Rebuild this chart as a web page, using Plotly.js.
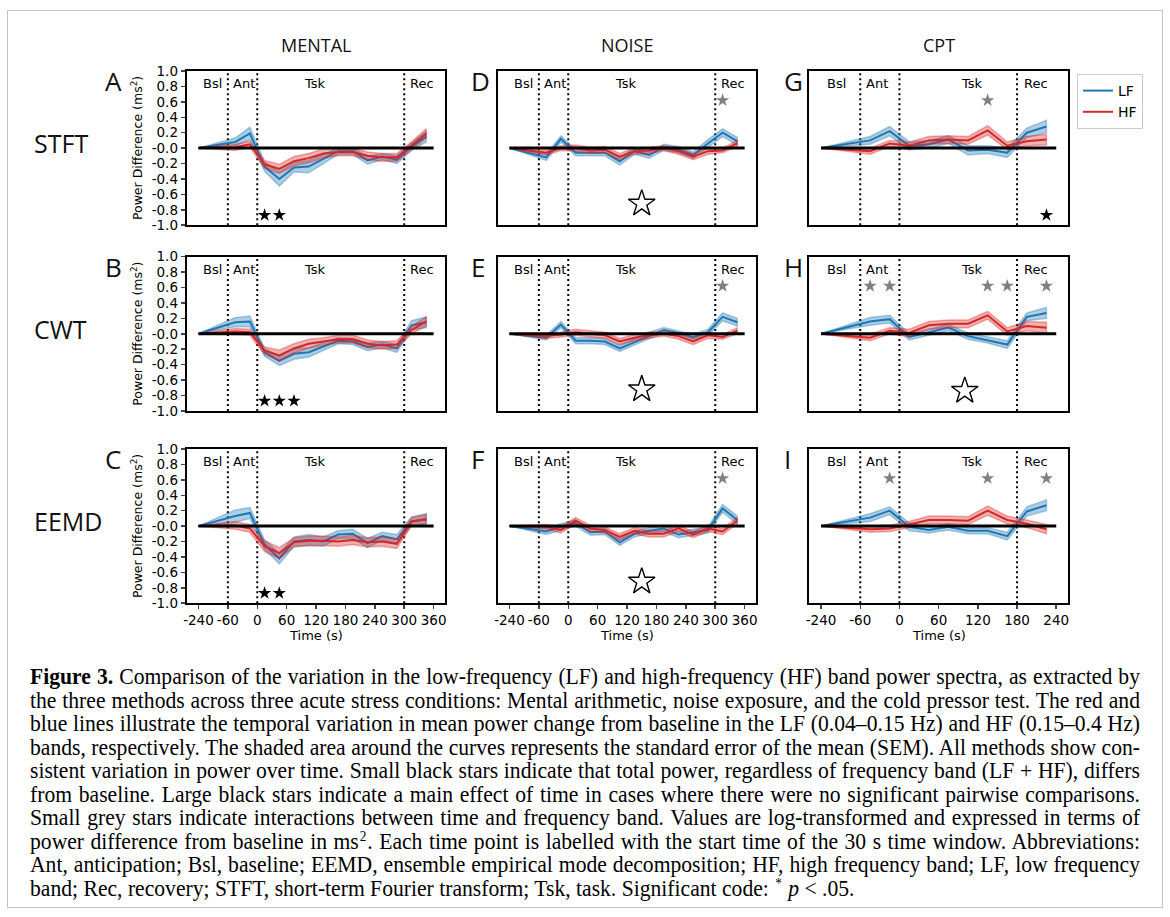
<!DOCTYPE html>
<html><head><meta charset="utf-8">
<script src="https://cdn.plot.ly/plotly-3.0.1.min.js"></script>
<style>
html,body{margin:0;padding:0;background:#fff;}
#wrap{position:relative;width:1170px;height:917px;overflow:hidden;background:#fff;}
#chart{position:absolute;left:0;top:0;width:1170px;height:917px;}
#frame{position:absolute;left:7px;top:10px;width:1154px;height:896px;border:1px solid #c4c4c4;pointer-events:none;}
#caption{position:absolute;left:30px;top:665px;width:1110px;font-family:"Liberation Serif","DejaVu Serif",serif;color:#000;transform-origin:0 0;}
#caption div{white-space:nowrap;line-height:23.5px;height:23.5px;text-align:justify;text-align-last:justify;}
#caption div.last{text-align-last:left;}
#caption sup{font-size:62%;vertical-align:0.55em;line-height:0;margin:0 1px;}
</style></head>
<body>
<div id="wrap">
<div id="chart"></div>
<div id="frame"></div>
<div id="caption"></div>
</div>
<script>
// ---------- DATA ----------
// x positions (s): baseline window drawn at the compressed -240 slot, others at window centres
const mentalX = [-120, -45, -15, 15, 45, 75, 105, 135, 165, 195, 225, 255, 285, 315, 345];
const cptX = [-120, -45, -15, 15, 45, 75, 105, 135, 165, 195, 225];

const mentalBounds = [-60, 0, 300];
const cptBounds = [-60, 0, 180];
const mentalZeroSpan = [-120, 360];
const cptZeroSpan = [-120, 240];

const mentalTickVals = [-120, -60, 0, 60, 120, 180, 240, 300, 360];
const mentalTickText = ['-240', '-60', '0', '60', '120', '180', '240', '300', '360'];
const cptTickVals = [-120, -60, 0, 60, 120, 180, 240];
const cptTickText = ['-240', '-60', '0', '60', '120', '180', '240'];
const yTickVals = [-1, -0.8, -0.6, -0.4, -0.2, 0, 0.2, 0.4, 0.6, 0.8, 1];
const yTickText = ['-1.0', '-0.8', '-0.6', '-0.4', '-0.2', '-0.0', '0.2', '0.4', '0.6', '0.8', '1.0'];

const columnTitles = ['MENTAL', 'NOISE', 'CPT'];
const rowTitles = ['STFT', 'CWT', 'EEMD'];
const panelLetters = ['A', 'B', 'C', 'D', 'E', 'F', 'G', 'H', 'I'];
const regionNames = ['Bsl', 'Ant', 'Tsk', 'Rec'];

// STFT - Mental (A)
const aLF = [0, 0.08, 0.19, -0.24, -0.40, -0.25, -0.24, -0.14, -0.04, -0.04, -0.16, -0.11, -0.15, 0.02, 0.15];
const aLFsem = [0, 0.05, 0.08, 0.06, 0.09, 0.06, 0.08, 0.06, 0.04, 0.04, 0.05, 0.04, 0.05, 0.05, 0.07];
const aHF = [0, 0.01, 0.05, -0.21, -0.27, -0.17, -0.13, -0.07, -0.05, -0.05, -0.10, -0.12, -0.12, 0.03, 0.19];
const aHFsem = [0, 0.04, 0.04, 0.05, 0.06, 0.06, 0.06, 0.06, 0.05, 0.05, 0.05, 0.05, 0.05, 0.05, 0.06];
// CWT - Mental (B)
const bLF = [0, 0.15, 0.16, -0.24, -0.35, -0.26, -0.24, -0.17, -0.09, -0.10, -0.17, -0.14, -0.19, 0.11, 0.15];
const bLFsem = [0, 0.06, 0.07, 0.05, 0.06, 0.07, 0.06, 0.05, 0.04, 0.04, 0.05, 0.04, 0.05, 0.06, 0.07];
const bHF = [0, 0.03, 0.02, -0.22, -0.28, -0.19, -0.13, -0.10, -0.07, -0.07, -0.13, -0.15, -0.14, 0.05, 0.16];
const bHFsem = [0, 0.04, 0.04, 0.05, 0.07, 0.06, 0.06, 0.05, 0.05, 0.05, 0.05, 0.05, 0.05, 0.05, 0.06];
// EEMD - Mental (C)
const cLF = [0, 0.13, 0.17, -0.24, -0.42, -0.20, -0.18, -0.20, -0.11, -0.10, -0.22, -0.13, -0.17, 0.06, 0.09];
const cLFsem = [0, 0.08, 0.07, 0.06, 0.07, 0.06, 0.07, 0.06, 0.05, 0.06, 0.06, 0.05, 0.06, 0.06, 0.07];
const cHF = [0, 0.01, -0.03, -0.26, -0.35, -0.21, -0.19, -0.19, -0.20, -0.18, -0.21, -0.20, -0.23, 0.06, 0.09];
const cHFsem = [0, 0.05, 0.05, 0.07, 0.07, 0.06, 0.06, 0.06, 0.06, 0.06, 0.06, 0.06, 0.06, 0.05, 0.06];
// STFT - Noise (D)
const dLF = [0, -0.12, 0.12, -0.06, -0.06, -0.06, -0.17, -0.04, -0.09, 0.01, -0.02, -0.09, 0.06, 0.20, 0.09];
const dLFsem = [0, 0.04, 0.04, 0.04, 0.04, 0.04, 0.05, 0.04, 0.04, 0.04, 0.04, 0.04, 0.05, 0.05, 0.05];
const dHF = [0, -0.06, 0.00, 0.00, -0.03, -0.02, -0.11, -0.04, -0.03, 0.00, -0.04, -0.11, -0.04, -0.03, 0.06];
const dHFsem = [0, 0.03, 0.03, 0.04, 0.04, 0.04, 0.04, 0.04, 0.04, 0.03, 0.04, 0.04, 0.04, 0.03, 0.04];
// CWT - Noise (E)
const eLF = [0, -0.05, 0.12, -0.09, -0.09, -0.10, -0.19, -0.11, -0.02, 0.05, 0.01, -0.04, 0.02, 0.22, 0.15];
const eLFsem = [0, 0.03, 0.04, 0.04, 0.04, 0.04, 0.04, 0.04, 0.04, 0.03, 0.03, 0.03, 0.04, 0.05, 0.05];
const eHF = [0, -0.03, -0.01, 0.02, 0.00, -0.02, -0.10, -0.05, -0.02, 0.00, -0.03, -0.10, -0.02, -0.04, 0.04];
const eHFsem = [0, 0.03, 0.03, 0.04, 0.04, 0.04, 0.04, 0.04, 0.04, 0.03, 0.04, 0.04, 0.04, 0.03, 0.04];
// EEMD - Noise (F)
const fLF = [0, -0.07, -0.01, 0.04, -0.08, -0.07, -0.21, -0.10, -0.06, -0.03, -0.11, -0.08, -0.05, 0.23, 0.08];
const fLFsem = [0, 0.04, 0.04, 0.04, 0.04, 0.04, 0.04, 0.04, 0.04, 0.04, 0.04, 0.04, 0.04, 0.05, 0.05];
const fHF = [0, -0.01, -0.05, 0.07, -0.03, -0.05, -0.14, -0.06, -0.10, -0.10, -0.03, -0.11, -0.03, -0.07, 0.07];
const fHFsem = [0, 0.03, 0.04, 0.04, 0.04, 0.04, 0.04, 0.04, 0.04, 0.04, 0.04, 0.04, 0.04, 0.04, 0.04];
// STFT - CPT (G)
const gLF = [0, 0.10, 0.22, 0.03, 0.05, 0.11, -0.03, -0.02, -0.06, 0.20, 0.28];
const gLFsem = [0, 0.05, 0.06, 0.05, 0.05, 0.05, 0.06, 0.05, 0.06, 0.06, 0.08];
const gHF = [0, -0.04, 0.06, 0.03, 0.10, 0.11, 0.10, 0.23, 0.03, 0.09, 0.11];
const gHFsem = [0, 0.04, 0.04, 0.05, 0.05, 0.05, 0.05, 0.06, 0.05, 0.06, 0.07];
// CWT - CPT (H)
const hLF = [0, 0.16, 0.19, -0.04, 0.02, 0.08, -0.03, -0.08, -0.14, 0.22, 0.27];
const hLFsem = [0, 0.05, 0.05, 0.04, 0.04, 0.04, 0.04, 0.04, 0.05, 0.05, 0.07];
const hHF = [0, -0.05, 0.04, 0.01, 0.11, 0.13, 0.13, 0.24, 0.03, 0.10, 0.08];
const hHFsem = [0, 0.04, 0.04, 0.05, 0.05, 0.05, 0.05, 0.05, 0.05, 0.06, 0.07];
// EEMD - CPT (I)
const iLF = [0, 0.11, 0.20, -0.01, -0.05, -0.01, -0.06, -0.06, -0.13, 0.19, 0.27];
const iLFsem = [0, 0.05, 0.05, 0.05, 0.04, 0.04, 0.04, 0.04, 0.05, 0.06, 0.07];
const iHF = [0, -0.04, -0.03, 0.02, 0.08, 0.08, 0.07, 0.20, 0.08, 0.03, -0.04];
const iHFsem = [0, 0.04, 0.04, 0.04, 0.05, 0.05, 0.05, 0.06, 0.05, 0.05, 0.06];

// significance markers (x position, y level)
const blackStarY = -0.87, greyStarY = 0.62, openStarY = -0.72;
const aBlackStars = [15, 45];
const bBlackStars = [15, 45, 75];
const cBlackStars = [15, 45];
const gBlackStars = [225];
const dGreyStars = [315];
const eGreyStars = [315];
const fGreyStars = [315];
const gGreyStars = [135];
const hGreyStars = [-45, -15, 135, 165, 225];
const iGreyStars = [-15, 135, 225];
const dOpenStars = [150];
const eOpenStars = [150];
const fOpenStars = [150];
const hOpenStars = [100];

// ---------- LAYOUT GEOMETRY (px) ----------
const W = 1170, H = 917;
const colLeft = [186.7, 497.7, 809.3], colW = 258.7;
const rowTop = [71, 256.7, 449], rowH = 154.2;
const mentalRange = [-144, 384], cptRange = [-138, 258];

const BLUE = '#1f77b4', RED = '#d62728';
const BLUE_A = 'rgba(31,119,180,0.36)', RED_A = 'rgba(214,39,40,0.36)';
const FONT = 'DejaVu Sans';
const TICK = 13.5;

const panels = [
  {lf: aLF, lfs: aLFsem, hf: aHF, hfs: aHFsem, blk: aBlackStars, gry: [], opn: []},
  {lf: bLF, lfs: bLFsem, hf: bHF, hfs: bHFsem, blk: bBlackStars, gry: [], opn: []},
  {lf: cLF, lfs: cLFsem, hf: cHF, hfs: cHFsem, blk: cBlackStars, gry: [], opn: []},
  {lf: dLF, lfs: dLFsem, hf: dHF, hfs: dHFsem, blk: [], gry: dGreyStars, opn: dOpenStars},
  {lf: eLF, lfs: eLFsem, hf: eHF, hfs: eHFsem, blk: [], gry: eGreyStars, opn: eOpenStars},
  {lf: fLF, lfs: fLFsem, hf: fHF, hfs: fHFsem, blk: [], gry: fGreyStars, opn: fOpenStars},
  {lf: gLF, lfs: gLFsem, hf: gHF, hfs: gHFsem, blk: gBlackStars, gry: gGreyStars, opn: []},
  {lf: hLF, lfs: hLFsem, hf: hHF, hfs: hHFsem, blk: [], gry: hGreyStars, opn: hOpenStars},
  {lf: iLF, lfs: iLFsem, hf: iHF, hfs: iHFsem, blk: [], gry: iGreyStars, opn: []}
];

const traces = [];
const layout = {
  width: W, height: H,
  margin: {l: 0, r: 0, t: 0, b: 0},
  paper_bgcolor: 'rgba(0,0,0,0)', plot_bgcolor: 'rgba(0,0,0,0)',
  font: {family: FONT, size: TICK, color: '#000'},
  showlegend: true,
  legend: {x: 1077 / W, y: 1 - 74 / H, xanchor: 'left', yanchor: 'top',
    bordercolor: '#cccccc', borderwidth: 1, bgcolor: '#fff',
    font: {family: FONT, size: 14, color: '#000'}, itemwidth: 30, tracegroupgap: 0},
  annotations: []
};

function band(x, m, s, col, xa, ya) {
  const up = m.map((v, k) => v + s[k]);
  const lo = m.map((v, k) => v - s[k]);
  return {x: x.concat(x.slice().reverse()), y: up.concat(lo.reverse()),
    xaxis: xa, yaxis: ya, type: 'scatter', mode: 'lines', fill: 'toself',
    fillcolor: col, line: {color: col, width: 1.5}, hoverinfo: 'skip', showlegend: false};
}

panels.forEach((p, i) => {
  const col = Math.floor(i / 3), row = i % 3;
  const n = i + 1, sfx = n === 1 ? '' : String(n);
  const xa = 'x' + sfx, ya = 'y' + sfx;
  const isCpt = col === 2;
  const xs = isCpt ? cptX : mentalX;
  const bounds = isCpt ? cptBounds : mentalBounds;
  const zspan = isCpt ? cptZeroSpan : mentalZeroSpan;

  // dotted phase boundaries
  const vx = [], vy = [];
  bounds.forEach(b => { vx.push(b, b, null); vy.push(-1, 1, null); });
  traces.push({x: vx, y: vy, xaxis: xa, yaxis: ya, type: 'scatter', mode: 'lines',
    line: {color: '#000', width: 2, dash: '2px,3px'}, hoverinfo: 'skip', showlegend: false});

  traces.push(band(xs, p.lf, p.lfs, BLUE_A, xa, ya));
  traces.push({x: xs, y: p.lf, xaxis: xa, yaxis: ya, type: 'scatter', mode: 'lines',
    line: {color: BLUE, width: 2}, name: 'LF', legendgroup: 'LF', showlegend: i === 0, hoverinfo: 'skip'});
  traces.push(band(xs, p.hf, p.hfs, RED_A, xa, ya));
  traces.push({x: xs, y: p.hf, xaxis: xa, yaxis: ya, type: 'scatter', mode: 'lines',
    line: {color: RED, width: 2}, name: 'HF', legendgroup: 'HF', showlegend: i === 0, hoverinfo: 'skip'});

  traces.push({x: zspan, y: [0, 0], xaxis: xa, yaxis: ya, type: 'scatter', mode: 'lines',
    line: {color: '#000', width: 3}, hoverinfo: 'skip', showlegend: false});

  if (p.blk.length) traces.push({x: p.blk, y: p.blk.map(() => blackStarY), xaxis: xa, yaxis: ya,
    type: 'scatter', mode: 'markers', marker: {symbol: 'star', size: 10, color: '#000'},
    hoverinfo: 'skip', showlegend: false});
  if (p.gry.length) traces.push({x: p.gry, y: p.gry.map(() => greyStarY), xaxis: xa, yaxis: ya,
    type: 'scatter', mode: 'markers', marker: {symbol: 'star', size: 10, color: '#808080'},
    hoverinfo: 'skip', showlegend: false});
  if (p.opn.length) traces.push({x: p.opn, y: p.opn.map(() => isCpt ? openStarY - 0.02 : openStarY), xaxis: xa, yaxis: ya,
    type: 'scatter', mode: 'markers', marker: {symbol: 'star-open', size: 20, color: '#000', line: {width: 1.4, color: '#000'}},
    hoverinfo: 'skip', showlegend: false});

  const x0 = colLeft[col], y0 = rowTop[row];
  const bottomRow = row === 2;
  layout['xaxis' + sfx] = {
    domain: [x0 / W, (x0 + colW) / W], anchor: ya,
    range: isCpt ? cptRange : mentalRange,
    tickvals: isCpt ? cptTickVals : mentalTickVals,
    ticktext: isCpt ? cptTickText : mentalTickText,
    showticklabels: bottomRow, ticks: bottomRow ? 'outside' : '', ticklen: 4, tickwidth: 1.5,
    tickfont: {family: FONT, size: TICK, color: '#000'},
    showline: true, mirror: true, linecolor: '#000', linewidth: 2,
    showgrid: false, zeroline: false, fixedrange: true
  };
  layout['yaxis' + sfx] = {
    domain: [1 - (y0 + rowH) / H, 1 - y0 / H], anchor: xa,
    range: [-1, 1], tickvals: yTickVals, ticktext: yTickText,
    showticklabels: col === 0, ticks: col === 0 ? 'outside' : '', ticklen: 4, tickwidth: 1.5,
    tickfont: {family: FONT, size: TICK, color: '#000'},
    showline: true, mirror: true, linecolor: '#000', linewidth: 2,
    showgrid: false, zeroline: false, fixedrange: true
  };

  // region labels
  const regX = [-114, bounds[0] + 6, 91, bounds[2] + 7];
  regionNames.forEach((t, k) => layout.annotations.push({text: t, x: regX[k], y: 0.84, xref: xa, yref: ya,
    xanchor: 'left', yanchor: 'middle', showarrow: false, font: {family: FONT, size: 13, color: '#000'}}));

  // panel letter
  const letterX = [103, 469, 782][col];
  layout.annotations.push({text: panelLetters[i], x: letterX / W, y: 1 - (y0 + 10) / H, xref: 'paper', yref: 'paper',
    xanchor: 'left', yanchor: 'middle', showarrow: false, font: {family: 'Open Sans', size: 26, color: '#111'}});

  if (col === 0) layout.annotations.push({text: 'Power Difference (ms<sup>2</sup>)', x: 137 / W, y: 1 - (y0 + rowH / 2) / H,
    xref: 'paper', yref: 'paper', textangle: -90, showarrow: false, xanchor: 'center', yanchor: 'middle',
    font: {family: FONT, size: 12.5, color: '#000'}});
  if (bottomRow) layout.annotations.push({text: 'Time (s)', x: (x0 + colW / 2) / W, y: 1 - 635 / H,
    xref: 'paper', yref: 'paper', showarrow: false, xanchor: 'center', yanchor: 'middle',
    font: {family: FONT, size: 13, color: '#000'}});
});

columnTitles.forEach((t, c) => layout.annotations.push({text: t, x: (colLeft[c] + colW / 2) / W, y: 1 - 45 / H,
  xref: 'paper', yref: 'paper', showarrow: false, xanchor: 'center', yanchor: 'middle',
  font: {family: 'Open Sans', size: 18, color: '#111'}}));
rowTitles.forEach((t, r) => layout.annotations.push({text: t, x: 32 / W, y: 1 - (rowTop[r] + rowH / 2 - 5) / H,
  xref: 'paper', yref: 'paper', showarrow: false, xanchor: 'left', yanchor: 'middle',
  font: {family: 'Open Sans', size: 25, color: '#111'}}));

Plotly.newPlot('chart', traces, layout, {staticPlot: true, displayModeBar: false});

// ---------- CAPTION ----------
const captionLines = [
  '<b>Figure 3.</b> Comparison of the variation in the low-frequency (LF) and high-frequency (HF) band power spectra, as extracted by',
  'the three methods across three acute stress conditions: Mental arithmetic, noise exposure, and the cold pressor test. The red and',
  'blue lines illustrate the temporal variation in mean power change from baseline in the LF (0.04–0.15 Hz) and HF (0.15–0.4 Hz)',
  'bands, respectively. The shaded area around the curves represents the standard error of the mean (SEM). All methods show con-',
  'sistent variation in power over time. Small black stars indicate that total power, regardless of frequency band (LF + HF), differs',
  'from baseline. Large black stars indicate a main effect of time in cases where there were no significant pairwise comparisons.',
  'Small grey stars indicate interactions between time and frequency band. Values are log-transformed and expressed in terms of',
  'power difference from baseline in ms<sup>2</sup>. Each time point is labelled with the start time of the 30 s time window. Abbreviations:',
  'Ant, anticipation; Bsl, baseline; EEMD, ensemble empirical mode decomposition; HF, high frequency band; LF, low frequency',
  'band; Rec, recovery; STFT, short-term Fourier transform; Tsk, task. Significant code: <sup>*</sup> <i>p</i> &lt; .05.'
];
const cap = document.getElementById('caption');
captionLines.forEach((h, k) => {
  const d = document.createElement('div');
  d.innerHTML = h;
  if (k === captionLines.length - 1) d.className = 'last';
  cap.appendChild(d);
});
// larger glyphs, horizontally condensed so the longest line fits the justified width
const CAP_FS = 22.5, CAP_W = 1110;
const meas = document.createElement('span');
meas.style.cssText = 'position:absolute;visibility:hidden;white-space:nowrap;font-family:"Liberation Serif","DejaVu Serif",serif;font-size:' + CAP_FS + 'px;';
document.body.appendChild(meas);
let mw = 0;
captionLines.forEach(h => { meas.innerHTML = h; mw = Math.max(mw, meas.getBoundingClientRect().width); });
meas.remove();
const sc = Math.min(1, (CAP_W - 2) / mw);
cap.style.fontSize = CAP_FS + 'px';
cap.style.width = (CAP_W / sc) + 'px';
cap.style.transform = 'scaleX(' + sc + ')';
</script>
</body></html>
